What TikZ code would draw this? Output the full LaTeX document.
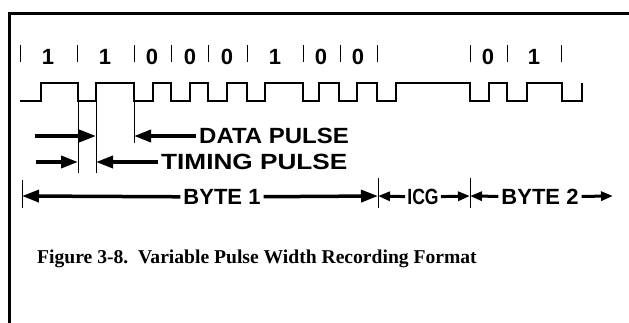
\documentclass[tikz,border=0pt]{standalone}
\usepackage{fontspec}
\usepackage{tikz}
\usetikzlibrary{arrows.meta}
\newfontfamily\lblfont{Liberation Sans}
\newfontfamily\capfont{Liberation Serif}
\newcommand{\lbl}{\lblfont\bfseries\fontsize{22}{26}\selectfont}
\newcommand{\widen}[2]{\scalebox{#1}[1]{#2}}

\begin{document}
\begin{tikzpicture}[x=1pt,y=-1pt,
  lbl/.style={font=\lbl,inner sep=3pt},
  bit/.style={font=\lblfont\bfseries\fontsize{22}{26}\selectfont,inner sep=0pt},
  arr/.style={-{Triangle[length=17pt,width=12pt]},line width=3.5pt},
  arrs/.style={-{Triangle[length=12pt,width=9pt]},line width=3pt},
  guide/.style={line width=1pt},
  wave/.style={line width=1.3pt}]
  \useasboundingbox (0,0) rectangle (629,323);
  \draw[line width=3pt] (9.5,323) -- (9.5,14) -- (629,14);
  \foreach \x in {20,77,134,171,208,247,303,340,377,470,507,561}
    \draw[guide] (\x,45) -- (\x,62);
  \foreach \x/\b [count=\i] in {48/1,105/1,152/0,190/0,227/0,275/1,321/0,358/0,488/0,534/1}
    \node[bit] (bit\i) at (\x,57) {\b};
  \draw[wave] (20,101) -| (41,83) -| (78,101) -| (96,83) -| (134,101) -| (153,83)
    -| (171,101) -| (190,83) -| (208,101) -| (227,83) -| (247,101) -| (265,83)
    -| (303,101) -| (319,83) -| (339,101) -| (357,83) -| (377,101) -| (396,83)
    -| (470,101) -| (489,83) -| (507,101) -| (527,83) -| (562,101) -| (582,83);
  \coordinate (fallA) at (78,101);
  \coordinate (riseA) at (96,101);
  \coordinate (fallB) at (134,101);
  \draw[guide] (fallA) -- ++(0,72);
  \draw[guide] (riseA) -- ++(0,72);
  \draw[guide] (fallB) -- ++(0,42);
  \coordinate (dataL) at (35,136);
  \coordinate (timL) at (36,162);
  \node[lbl,anchor=west] (data) at (196,136) {\widen{1.09}{DATA PULSE}};
  \node[lbl,anchor=west] (timing) at (158,162) {\widen{1.19}{TIMING PULSE}};
  \draw[arr] (dataL) -- (riseA |- dataL);
  \draw[arr] (data) -- (fallB |- data);
  \draw[arr] (timL) -- (fallA |- timL);
  \draw[arr] (timing) -- (riseA |- timing);
  \coordinate (b1s) at (22,196);
  \coordinate (icgs) at (378,196);
  \coordinate (b2s) at (470,196);
  \coordinate (b2e) at (613,196);
  \draw[guide] (22,180) -- (22,208);
  \draw[guide] (378,178) -- (378,208);
  \draw[guide] (470,178) -- (470,208);
  \node[lbl] (byte1) at (222,197) {BYTE 1};
  \node[lbl,inner sep=2pt] (icg) at (423,197) {\widen{0.8}{ICG}};
  \node[lbl] (byte2) at (540,197) {BYTE 2};
  \draw[arr] (byte1) -- (b1s);
  \draw[arr] (byte1) -- (icgs);
  \draw[arrs] (icg) -- (icgs);
  \draw[arrs] (icg) -- (b2s);
  \draw[arrs] (byte2) -- (b2s);
  \draw[arrs] (byte2) -- (b2e);
  \node[anchor=west,inner sep=0pt,font=\capfont\bfseries\fontsize{19.6}{24}\selectfont] (caption) at (37,259)
    {Figure 3-8.\ \ Variable Pulse Width Recording Format};
\end{tikzpicture}
\end{document}
